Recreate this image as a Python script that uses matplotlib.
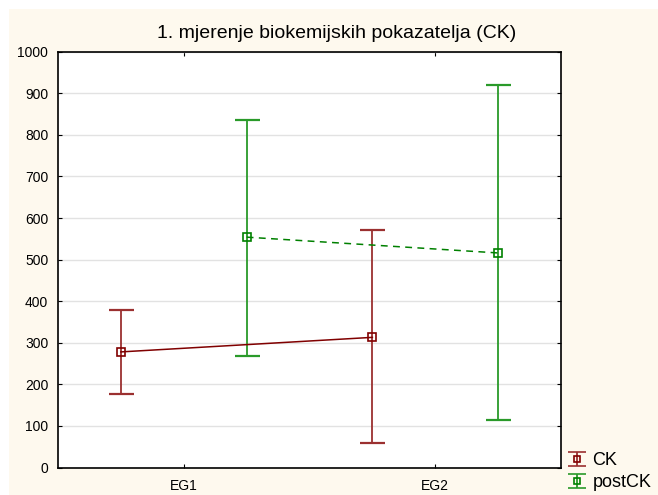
import matplotlib
matplotlib.use("Agg")
import matplotlib.pyplot as plt
from matplotlib.patches import Rectangle
from matplotlib.legend_handler import HandlerErrorbar
import numpy as np

plt.rcParams['font.family'] = ['Liberation Sans', 'DejaVu Sans']

categories = ["EG1", "EG2"]
series_names = ["CK", "postCK"]
ck_mean = [278, 313]
ck_low = [177, 58]
ck_high = [379, 570]
post_mean = [554, 516]
post_low = [268, 114]
post_high = [836, 920]
yticks = [0, 100, 200, 300, 400, 500, 600, 700, 800, 900, 1000]
title = "1. mjerenje biokemijskih pokazatelja (CK)"

W, H = 658, 495
fig = plt.figure(figsize=(W / 100, H / 100), dpi=100, facecolor="white")
fig.patches.append(Rectangle((9 / W, 0), 1 - 9 / W, 1 - 9 / H, transform=fig.transFigure,
                             facecolor="#FEF9EE", edgecolor="none", zorder=-10))

ax = fig.add_axes([58 / W, 1 - 467.5 / H, (561 - 58) / W, (467.5 - 51.7) / H])
ax.set_facecolor("white")

x = np.arange(len(categories))
off = 0.25

ck_col_line = "#800000"
ck_col_err = "#9B3030"
post_col_line = "#008000"
post_col_err = "#2A9A2A"

ck_m = np.array(ck_mean); post_m = np.array(post_mean)
ck_err = [ck_m - np.array(ck_low), np.array(ck_high) - ck_m]
post_err = [post_m - np.array(post_low), np.array(post_high) - post_m]

ax.errorbar(x - off, ck_m, yerr=ck_err, fmt="none", ecolor=ck_col_err,
            elinewidth=1.3, capsize=9, capthick=1.6, zorder=3)
ax.plot(x - off, ck_m, color=ck_col_line, lw=1.1, marker="s", ms=5.5, mfc="none",
        mec=ck_col_line, mew=1.2, zorder=4)
ax.errorbar(x + off, post_m, yerr=post_err, fmt="none", ecolor=post_col_err,
            elinewidth=1.3, capsize=9, capthick=1.6, zorder=3)
ax.plot(x + off, post_m, color=post_col_line, lw=1.1, ls=(0, (4.5, 3.5)), marker="s",
        ms=5.5, mfc="none", mec=post_col_line, mew=1.2, zorder=4)

# legend proxies (errorbar style with square marker)
h1 = ax.errorbar([np.nan], [np.nan], yerr=[[1], [1]], fmt="s", color=ck_col_line, ms=5,
                 mfc="none", mew=1.2, ecolor=ck_col_err, elinewidth=1.3, capsize=6.5, capthick=1.6)
h2 = ax.errorbar([np.nan], [np.nan], yerr=[[1], [1]], fmt="s", color=post_col_line, ms=5,
                 mfc="none", mew=1.2, ecolor=post_col_err, elinewidth=1.3, capsize=6.5, capthick=1.6)

ax.set_xlim(-0.5, 1.5)
ax.set_ylim(0, 1000)
ax.set_yticks(yticks)
ax.set_xticks(x)
ax.set_xticklabels(categories)
ax.yaxis.grid(True, color="#E2E2E2", lw=1)
ax.set_axisbelow(True)
ax.tick_params(axis="y", left=True, right=True, direction="in", length=3, labelsize=10, pad=7)
ax.tick_params(axis="x", top=True, bottom=True, direction="in", length=3, labelsize=10, pad=8)
for s in ax.spines.values():
    s.set_linewidth(1.2)
    s.set_color("black")

fig.text(337 / W, 1 - 33 / H, title, ha="center", va="center", fontsize=14)

leg = fig.legend([h1, h2], series_names, loc="upper left",
                 bbox_to_anchor=(568 / W, 1 - 452 / H), frameon=False, fontsize=13,
                 handlelength=1.0, handletextpad=0.35, labelspacing=0.3,
                 borderaxespad=0, borderpad=0,
                 handler_map={type(h1): HandlerErrorbar(xerr_size=0.3, yerr_size=0.38)})
fig.savefig("out.png", dpi=100, facecolor="white")
